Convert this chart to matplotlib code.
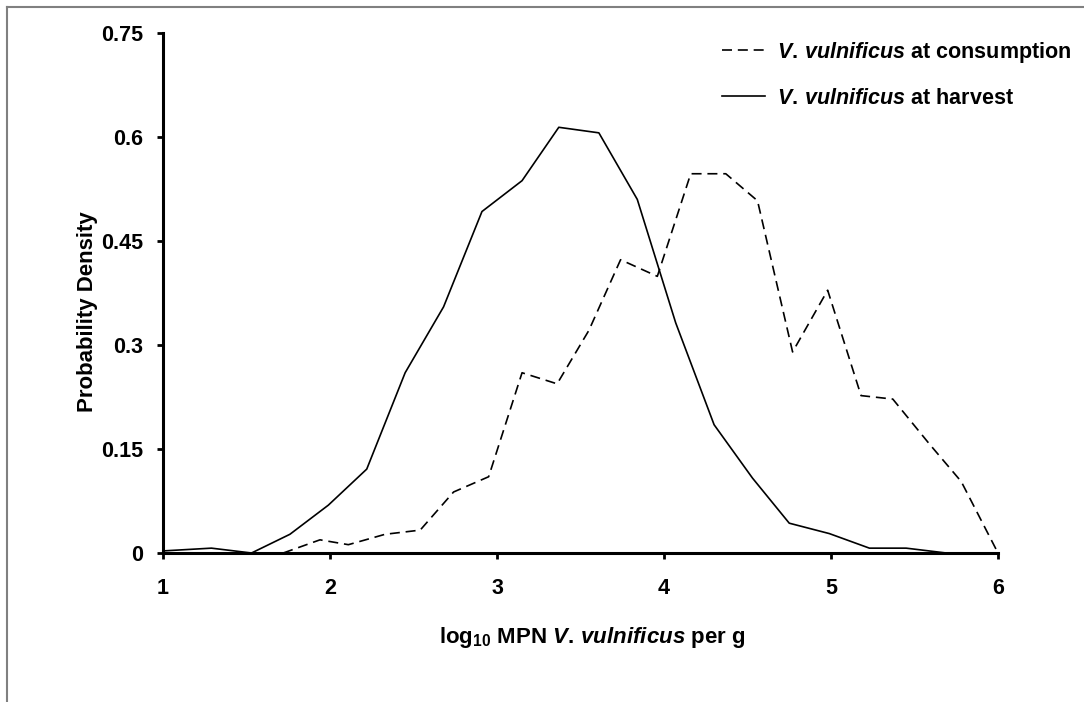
import numpy as np
import matplotlib
matplotlib.use('Agg')
from matplotlib import pyplot as plt
from matplotlib.lines import Line2D

plt.rcParams['font.family'] = ['Liberation Sans', 'DejaVu Sans']
plt.rcParams['font.weight'] = 'bold'
plt.rcParams['mathtext.fontset'] = 'custom'
plt.rcParams['mathtext.rm'] = 'Liberation Sans:bold'
plt.rcParams['mathtext.it'] = 'Liberation Sans:bold:italic'
plt.rcParams['mathtext.bf'] = 'Liberation Sans:bold'

# V. vulnificus at harvest (solid)
harvest_x = [1.0, 1.29, 1.53, 1.76, 1.99, 2.22, 2.45, 2.68, 2.91, 3.15, 3.37,
             3.61, 3.84, 4.07, 4.30, 4.53, 4.75, 4.99, 5.23, 5.45, 5.69]
harvest_y = [0.003, 0.007, 0.0, 0.027, 0.069, 0.121, 0.26, 0.355, 0.4925, 0.537, 0.614,
             0.606, 0.510, 0.332, 0.185, 0.108, 0.043, 0.028, 0.007, 0.007, 0.0]

# V. vulnificus at consumption (dashed)
consumption_x = [1.72, 1.94, 2.11, 2.33, 2.54, 2.74, 2.95, 3.15, 3.36, 3.55, 3.74,
                 3.96, 4.16, 4.37, 4.56, 4.77, 4.98, 5.18, 5.37, 5.59, 5.78, 6.0]
consumption_y = [0.0, 0.019, 0.012, 0.027, 0.033, 0.088, 0.110, 0.26, 0.244, 0.321, 0.423,
                 0.399, 0.547, 0.547, 0.508, 0.29, 0.379, 0.227, 0.222, 0.157, 0.103, 0.0]

x_ticks = [1, 2, 3, 4, 5, 6]
y_ticks = [0, 0.15, 0.3, 0.45, 0.6, 0.75]
y_tick_labels = ['0', '0.15', '0.3', '0.45', '0.6', '0.75']

fig = plt.figure(figsize=(10.84, 7.02), dpi=100)
ax = fig.add_axes([163/1084, 1-553/702, (998-163)/1084, (553-33)/702])

ax.plot(consumption_x, consumption_y, color='black', lw=1.2, dashes=(6, 3.5),
        label=r'$V.\,vulnificus$ at consumption')
ax.plot(harvest_x, harvest_y, color='black', lw=1.2,
        label=r'$V.\,vulnificus$ at harvest')

ax.set_xlim(1, 6)
ax.set_ylim(0, 0.75)
ax.set_xticks(x_ticks)
ax.set_yticks(y_ticks)
ax.set_yticklabels(y_tick_labels)
for s in ['top', 'right']:
    ax.spines[s].set_visible(False)
for s in ['left', 'bottom']:
    ax.spines[s].set_linewidth(2.2)
ax.tick_params(direction='out', length=4, width=2, labelsize=15.5)
ax.tick_params(axis='y', pad=10)
ax.tick_params(axis='x', pad=14)
for lab in ax.get_xticklabels() + ax.get_yticklabels():
    lab.set_fontweight('bold')

fig.text(592/1084, 1-637/702, r'log$_{10}$ MPN $V.\,vulnificus$ per g',
         ha='center', va='center', fontsize=16, fontweight='bold')
fig.text(87/1084, 1-312/702, 'Probability Density', rotation=90,
         ha='center', va='center', fontsize=16, fontweight='bold')

leg = fig.legend(loc='upper left', bbox_to_anchor=(722/1084, 1-40/702),
                 frameon=False, handlelength=2.0, handletextpad=0.55,
                 labelspacing=1.05, borderpad=0, borderaxespad=0,
                 prop={'weight': 'bold', 'size': 15.5})

# figure frame (top and left edges)
fig.add_artist(Line2D([7/1084, 1], [1-7/702, 1-7/702], color='#808080', lw=1.5,
                      transform=fig.transFigure))
fig.add_artist(Line2D([7/1084, 7/1084], [0, 1-7/702], color='#808080', lw=1.5,
                      transform=fig.transFigure))

fig.savefig('out.png', dpi=100)
